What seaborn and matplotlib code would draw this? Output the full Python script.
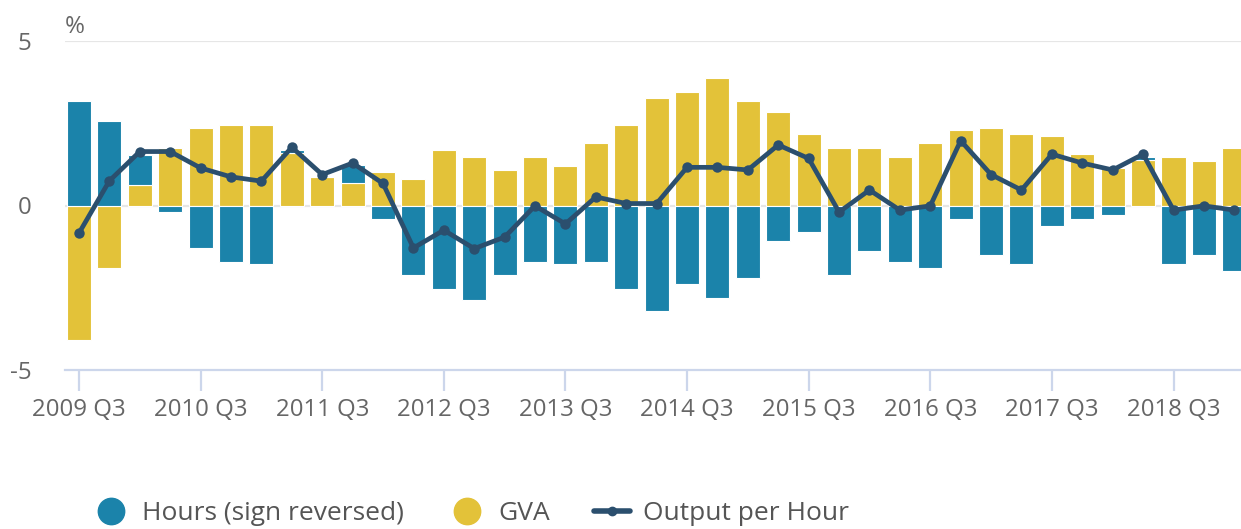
import numpy as np
import seaborn as sns
import matplotlib.pyplot as plt
from matplotlib.lines import Line2D

# quarterly contributions, 2009 Q3 .. 2019 Q1 (%)
gva = [-4.09, -1.91, 0.61, 1.75, 2.37, 2.44, 2.44, 1.60, 0.86, 0.67, 1.01, 0.80,
       1.69, 1.48, 1.07, 1.48, 1.21, 1.89, 2.44, 3.26, 3.45, 3.87, 3.18, 2.85,
       2.17, 1.75, 1.75, 1.48, 1.89, 2.30, 2.37, 2.17, 2.10, 1.56, 1.14, 1.38,
       1.48, 1.35, 1.75]
hours = [3.18, 2.56, 0.94, -0.21, -1.30, -1.71, -1.78, 0.10, 0.0, 0.55, -0.42, -2.12,
         -2.53, -2.88, -2.12, -1.71, -1.78, -1.71, -2.53, -3.21, -2.39, -2.81, -2.19, -1.09,
         -0.82, -2.12, -1.37, -1.71, -1.91, -0.42, -1.51, -1.78, -0.62, -0.42, -0.28, 0.09,
         -1.78, -1.51, -1.99]
oph = [-0.84, 0.75, 1.64, 1.64, 1.14, 0.87, 0.74, 1.77, 0.94, 1.29, 0.67, -1.29,
       -0.75, -1.31, -0.96, -0.01, -0.56, 0.26, 0.06, 0.06, 1.16, 1.16, 1.08, 1.84,
       1.43, -0.20, 0.47, -0.14, -0.01, 1.97, 0.94, 0.47, 1.56, 1.29, 1.08, 1.56,
       -0.14, -0.01, -0.14]
tick_labels = ["2009 Q3", "2010 Q3", "2011 Q3", "2012 Q3", "2013 Q3",
               "2014 Q3", "2015 Q3", "2016 Q3", "2017 Q3", "2018 Q3"]

BLUE = "#1b83aa"
YELLOW = "#e3c239"
LINE = "#2b4f6e"
GREY = "#666666"

sns.set_theme(style="white")
plt.rcParams["font.family"] = ["Open Sans", "DejaVu Sans"]

x = np.arange(len(gva))
gva_a = np.array(gva)
hours_a = np.array(hours)
# stack positives and negatives separately, GVA closest to zero
hours_bottom = np.where(hours_a >= 0, np.clip(gva_a, 0, None), np.clip(gva_a, None, 0))

fig = plt.figure(figsize=(12.41, 5.29), dpi=100)
ax = fig.add_axes([65 / 1241, 159 / 529, 1 - 65 / 1241, 329 / 529])

ax.bar(x, gva_a, width=0.79, color=YELLOW, edgecolor="white", linewidth=0.8, zorder=2)
ax.bar(x, hours_a, width=0.79, bottom=hours_bottom, color=BLUE, edgecolor="white",
       linewidth=0.8, zorder=2)
sns.lineplot(x=x, y=oph, ax=ax, color=LINE, linewidth=3.4, marker="o", markersize=7.5,
             markeredgewidth=0, zorder=3)

ax.set_xlim(-0.46, 38.22)
ax.set_ylim(-5, 5)
ax.set_yticks([-5, 0, 5])
ax.set_yticklabels(["-5", "0", "5"])
ax.set_xticks(x[::4])
ax.set_xticklabels(tick_labels)
ax.set_xlabel("")
ax.set_ylabel("")

for v in (0, 5):
    ax.axhline(v, color="#e6e6e6", linewidth=1.6, zorder=1)

for s in ("top", "right", "left"):
    ax.spines[s].set_visible(False)
ax.spines["bottom"].set_color("#ccd6eb")
ax.spines["bottom"].set_linewidth(1.6)

ax.tick_params(axis="x", length=15, width=1.6, color="#ccd6eb", pad=5,
               labelsize=17.3, labelcolor=GREY, bottom=True)
ax.tick_params(axis="y", length=0, pad=24, labelsize=17.3, labelcolor=GREY)

fig.text(65 / 1241, 1 - 27 / 529, "%", fontsize=17.3, color=GREY, ha="left", va="center")

handles = [
    Line2D([], [], linestyle="none", marker="o", markersize=19, color=BLUE),
    Line2D([], [], linestyle="none", marker="o", markersize=19, color=YELLOW),
    Line2D([], [], color=LINE, linewidth=4, marker="o", markersize=6),
]
fig.legend(handles, ["Hours (sign reversed)", "GVA", "Output per Hour"],
           loc="center left", bbox_to_anchor=(93 / 1241, 15 / 529), ncol=3,
           frameon=False, fontsize=19, labelcolor="#555555", handlelength=1.36,
           handletextpad=0.5, columnspacing=1.7, borderpad=0, borderaxespad=0)

fig.savefig("out.png", dpi=100)
